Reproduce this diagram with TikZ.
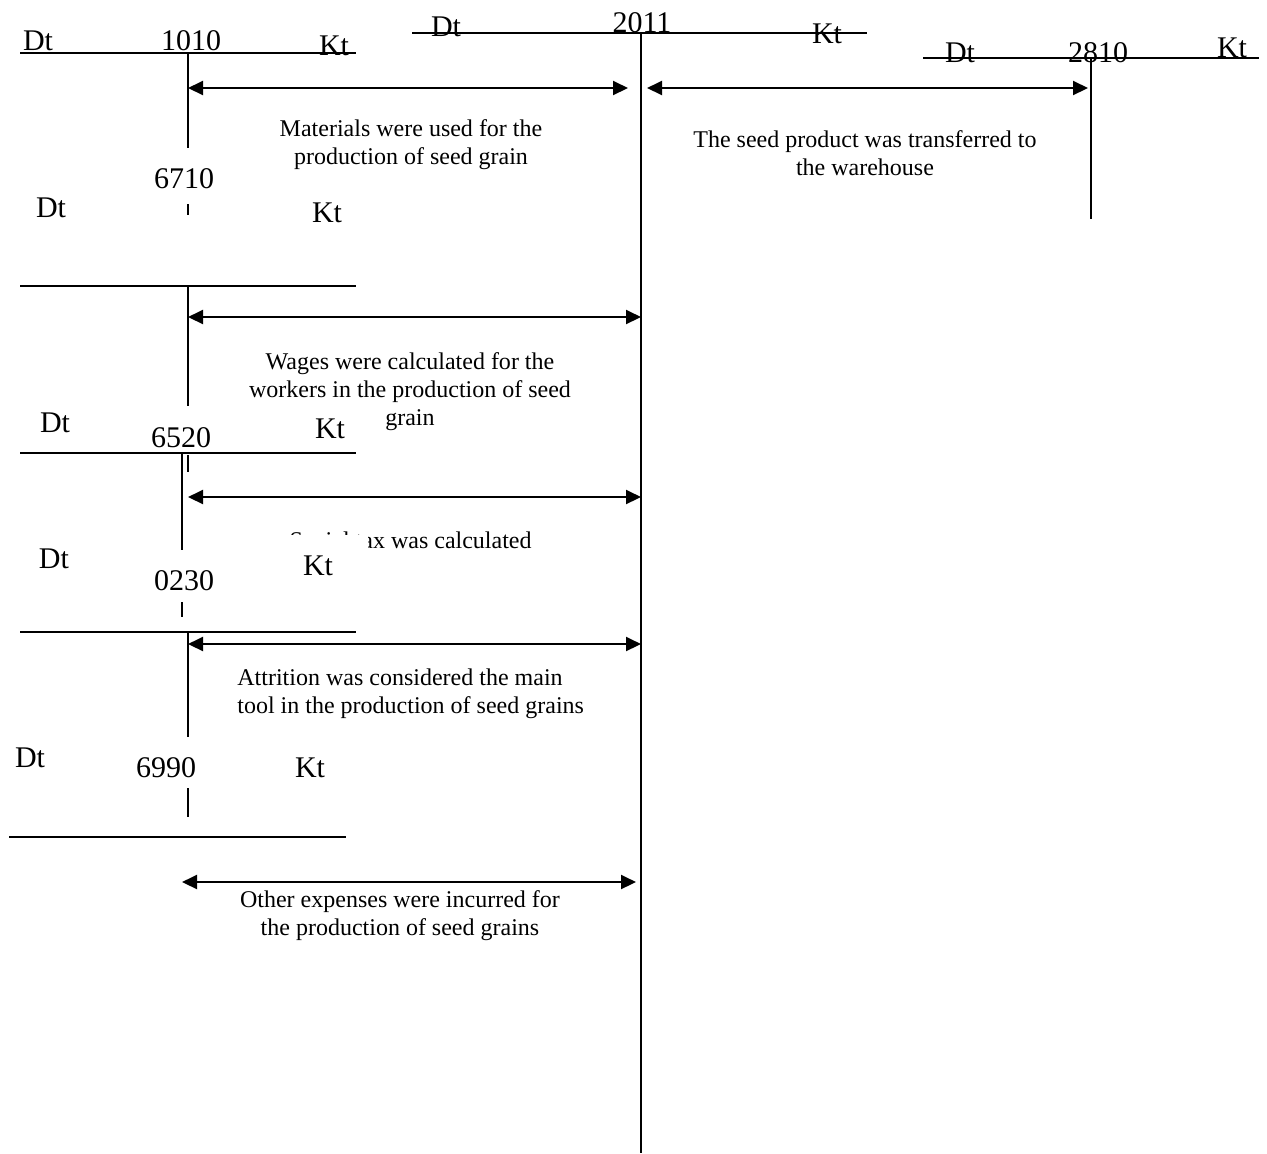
\documentclass[tikz,border=0pt]{standalone}
\usepackage{fontspec}
\setmainfont{Liberation Serif}
\usetikzlibrary{arrows.meta}

\begin{document}
\begin{tikzpicture}[x=0.5pt, y=-0.5pt, >={Triangle[length=7.5pt,width=7pt]},
    tline/.style={line width=1pt},
    flow/.style={line width=1pt, <->},
    acct/.style={font=\fontsize{15}{18}\selectfont, anchor=base, inner sep=0pt},
    note/.style={font=\fontsize{12}{14}\selectfont, align=center, anchor=base, inner sep=0pt}]
    \useasboundingbox (0,0) rectangle (1267,1153);

    % Account titles {Dt, number, Kt}
    \node [acct] (d1010) at (38,50)   {Dt};
    \node [acct] (n1010) at (191,50)  {1010};
    \node [acct] (k1010) at (334,55)  {Kt};
    \node [acct] (d2011) at (446,36)  {Dt};
    \node [acct] (n2011) at (642,32)  {2011};
    \node [acct] (k2011) at (827,43)  {Kt};
    \node [acct] (d2810) at (960,62)  {Dt};
    \node [acct] (n2810) at (1098,62) {2810};
    \node [acct] (k2810) at (1232,57) {Kt};
    \node [acct] (n6710) at (184,188) {6710};
    \node [acct] (d6710) at (51,217)  {Dt};
    \node [acct] (k6710) at (327,222) {Kt};
    \node [acct] (d6520) at (55,432)  {Dt};
    \node [acct] (n6520) at (181,447) {6520};
    \node [acct] (k6520) at (330,438) {Kt};
    \node [acct] (d0230) at (54,568)  {Dt};
    \node [acct] (n0230) at (184,590) {0230};
    \node [acct] (k0230) at (318,575) {Kt};
    \node [acct] (d6990) at (30,767)  {Dt};
    \node [acct] (n6990) at (166,777) {6990};
    \node [acct] (k6990) at (310,777) {Kt};

    % T-account rules
    \coordinate (l1010) at (20,53);   \coordinate (r1010) at (356,53);
    \coordinate (t1010) at (188,53);  \coordinate (b1010) at (188,148);
    \coordinate (l2011) at (412,33);  \coordinate (r2011) at (867,33);
    \coordinate (t2011) at (641,33);  \coordinate (b2011) at (641,1153);
    \coordinate (l2810) at (923,58);  \coordinate (r2810) at (1259,58);
    \coordinate (t2810) at (1091,58); \coordinate (b2810) at (1091,219);
    \coordinate (u6710) at (188,204); \coordinate (v6710) at (188,215);
    \coordinate (l6710) at (20,286);  \coordinate (r6710) at (356,286);
    \coordinate (t6710) at (188,286); \coordinate (b6710) at (188,406);
    \coordinate (l6520) at (20,453);  \coordinate (r6520) at (356,453);
    \coordinate (t6520) at (182,453); \coordinate (b6520) at (182,550);
    \coordinate (u6520) at (188,455); \coordinate (v6520) at (188,472);
    \coordinate (u0230) at (182,602); \coordinate (v0230) at (182,617);
    \coordinate (l0230) at (20,632);  \coordinate (r0230) at (356,632);
    \coordinate (t0230) at (188,632); \coordinate (b0230) at (188,737);
    \coordinate (u6990) at (188,788); \coordinate (v6990) at (188,817);
    \coordinate (l6990) at (9,837);   \coordinate (r6990) at (346,837);

    \draw [tline] (l1010) -- (r1010) (t1010) -- (b1010);
    \draw [tline] (l2011) -- (r2011) (t2011) -- (b2011);
    \draw [tline] (l2810) -- (r2810) (t2810) -- (b2810);
    \draw [tline] (u6710) -- (v6710) (l6710) -- (r6710) (t6710) -- (b6710);
    \draw [tline] (l6520) -- (r6520) (t6520) -- (b6520) (u6520) -- (v6520);
    \draw [tline] (u0230) -- (v0230) (l0230) -- (r0230) (t0230) -- (b0230);
    \draw [tline] (u6990) -- (v6990) (l6990) -- (r6990);

    % Entries
    \coordinate (a1) at (188,88);  \coordinate (b1) at (628,88);
    \coordinate (a2) at (647,88);  \coordinate (b2) at (1088,88);
    \coordinate (a3) at (188,317); \coordinate (b3) at (641,317);
    \coordinate (a4) at (188,497); \coordinate (b4) at (641,497);
    \coordinate (a5) at (188,644); \coordinate (b5) at (641,644);
    \coordinate (a6) at (182,882); \coordinate (b6) at (636,882);

    \path [flow] (a1) edge (b1);
    \path [flow] (a2) edge (b2);
    \path [flow] (a3) edge (b3);
    \path [flow] (a4) edge (b4);
    \path [flow] (a5) edge (b5);
    \path [flow] (a6) edge (b6);

    % Entry texts (base = last line)
    \node [note] (t1) at (411,164) {Materials were used for the\\production of seed grain};
    \node [note] (t2) at (865,175) {The seed product was transferred to\\the warehouse};
    \node [note] (t3) at (410,425) {Wages were calculated for the\\workers in the production of seed\\grain};
    \node [note, anchor=base east] (t4) at (532,548) {Social tax was calculated};
    \fill [white] (284,535) rectangle (368,550);
    \node [note, anchor=base west, align=left] (t5) at (237,713) {Attrition was considered the main\\tool in the production of seed grains};
    \node [note] (t6) at (400,935) {Other expenses were incurred for\\the production of seed grains};

\end{tikzpicture}
\end{document}
